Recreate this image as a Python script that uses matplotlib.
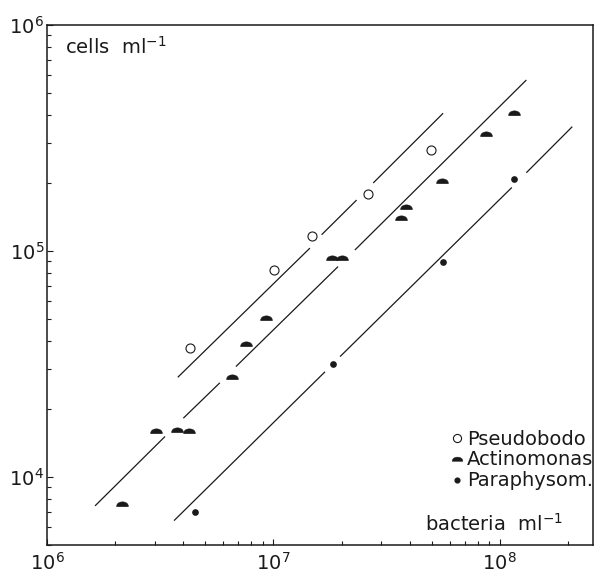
import numpy as np
import matplotlib
matplotlib.use("Agg")
import matplotlib.pyplot as plt
from matplotlib.ticker import LogLocator, NullFormatter

# point data (bacteria ml-1, cells ml-1)
pseudo_x = [4.3e6, 1.01e7, 1.48e7, 2.63e7, 4.99e7]
pseudo_y = [3.73e4, 8.24e4, 1.16e5, 1.79e5, 2.8e5]

actino_x = [2.14e6, 3.03e6, 3.76e6, 4.25e6, 6.56e6, 7.57e6, 9.27e6,
            1.82e7, 2.01e7, 3.66e7, 3.87e7, 5.56e7, 8.67e7, 1.15e8]
actino_y = [7.6e3, 1.6e4, 1.62e4, 1.6e4, 2.78e4, 3.86e4, 5.07e4,
            9.33e4, 9.33e4, 1.40e5, 1.57e5, 2.03e5, 3.3e5, 4.07e5]

para_x = [4.5e6, 1.84e7, 5.62e7, 1.16e8]
para_y = [6.98e3, 3.15e4, 8.98e4, 2.09e5]

# fitted lines, drawn broken near the points as in the original
# each segment: (x0, x1), (y0, y1)
pseudo_line = [((3.78e6, 1.45e7), (2.76e4, 1.03e5)),
               ((1.633e7, 2.33e7), (1.18e5, 1.68e5)),
               ((2.76e7, 5.62e7), (2.0e5, 4.07e5))]
actino_line = [((1.63e6, 3.32e6), (7.45e3, 1.51e4)),
               ((4.0e6, 5.8e6), (1.82e4, 2.61e4)),
               ((6.83e6, 1.93e7), (3.08e4, 8.53e4)),
               ((2.29e7, 1.31e8), (1.01e5, 5.71e5))]
para_line = [((3.64e6, 1.69e7), (6.41e3, 2.92e4)),
             ((1.97e7, 1.13e8), (3.41e4, 1.91e5)),
             ((1.31e8, 2.09e8), (2.22e5, 3.55e5))]

labels = ["Pseudobodo", "Actinomonas", "Paraphysom."]

ink = "#1a1a1a"
plt.rcParams['font.family'] = ['DejaVu Sans']

fig = plt.figure(figsize=(6.02, 5.76), dpi=100)
ax = fig.add_axes([47/602, 1-545/576, 546/602, 520/576])
ax.set_xscale('log')
ax.set_yscale('log')
ax.set_xlim(1e6, 2.58e8)
ax.set_ylim(5.0e3, 1e6)

for seglist in (pseudo_line, actino_line, para_line):
    for xs, ys in seglist:
        ax.plot(xs, ys, color=ink, lw=0.9, solid_capstyle='butt')

# dome shaped marker for Actinomonas (rounded triangle)
t = np.linspace(0, np.pi, 25)
dome = [(np.cos(a), 0.85*np.sin(a)**0.8 - 0.4) for a in t]

h1, = ax.plot(pseudo_x, pseudo_y, ls='none', marker='o', ms=6.5,
              mfc='white', mec=ink, mew=0.8)
h2, = ax.plot(actino_x, actino_y, ls='none', marker=dome, ms=8.5,
              mfc=ink, mec=ink, mew=0.3)
h3, = ax.plot(para_x, para_y, ls='none', marker='o', ms=3.8,
              mfc=ink, mec=ink)

for s in ax.spines.values():
    s.set_color(ink)
    s.set_linewidth(1.1)

ax.xaxis.set_major_locator(LogLocator(base=10, numticks=10))
ax.yaxis.set_major_locator(LogLocator(base=10, numticks=10))
ax.xaxis.set_minor_locator(LogLocator(base=10, subs=np.arange(2, 10), numticks=20))
ax.yaxis.set_minor_locator(LogLocator(base=10, subs=np.arange(2, 10), numticks=20))
ax.xaxis.set_minor_formatter(NullFormatter())
ax.yaxis.set_minor_formatter(NullFormatter())
ax.tick_params(which='both', direction='in', top=False, right=False,
               color=ink, width=0.8, labelsize=14, labelcolor=ink)
ax.tick_params(which='major', length=4)
ax.tick_params(which='minor', length=3)
ax.tick_params(axis='y', pad=2)
ax.tick_params(axis='x', pad=5)

ax.text(0.033, 0.958, "cells  ml$^{-1}$", transform=ax.transAxes,
        fontsize=14, color=ink, ha='left', va='center')
ax.text(0.945, 0.02, "bacteria  ml$^{-1}$", transform=ax.transAxes,
        fontsize=14, color=ink, ha='right', va='bottom')

leg = ax.legend([h1, h2, h3], labels, loc='lower right',
                bbox_to_anchor=(1.0, 0.105), frameon=False, fontsize=14,
                handlelength=0.6, handletextpad=0.2, labelspacing=0.1,
                borderpad=0, borderaxespad=0, markerscale=0.9)
for txt in leg.get_texts():
    txt.set_color(ink)

fig.savefig("out.png", dpi=100)
